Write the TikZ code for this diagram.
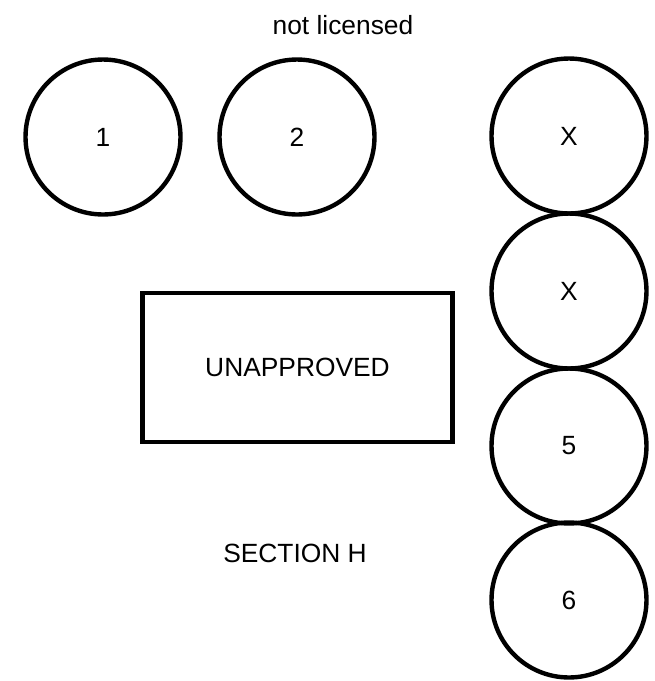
\documentclass[tikz,border=0pt]{standalone}
\usepackage{fontspec}
\setmainfont{Liberation Sans}
\begin{document}
\begin{tikzpicture}[x=0.02cm,y=-0.02cm]
\tikzset{
  seat/.style={draw,line width=2.5pt,circle,minimum size=3.1cm,inner sep=0pt,font=\fontsize{15}{18}\selectfont},
  area/.style={draw,line width=2.5pt,minimum width=6.2cm,minimum height=2.97cm,font=\fontsize{15}{18}\selectfont},
  caption/.style={font=\fontsize{15}{18}\selectfont}
}
\useasboundingbox (0,0) rectangle (655,681);
\node[caption] (lic) at (343,25){not licensed};
\node[seat] (s1) at (103,137){1};
\node[seat] (s2) at (297,137){2};
\node[seat] (x1) at (569,136){X};
\node[seat] (x2) at (569,291){X};
\node[seat] (s5) at (569,446){5};
\node[seat] (s6) at (569,600){6};
\node[area] (unap) at (297.5,367.5){UNAPPROVED};
\node[caption] (sec) at (295,553){SECTION H};
\end{tikzpicture}
\end{document}
